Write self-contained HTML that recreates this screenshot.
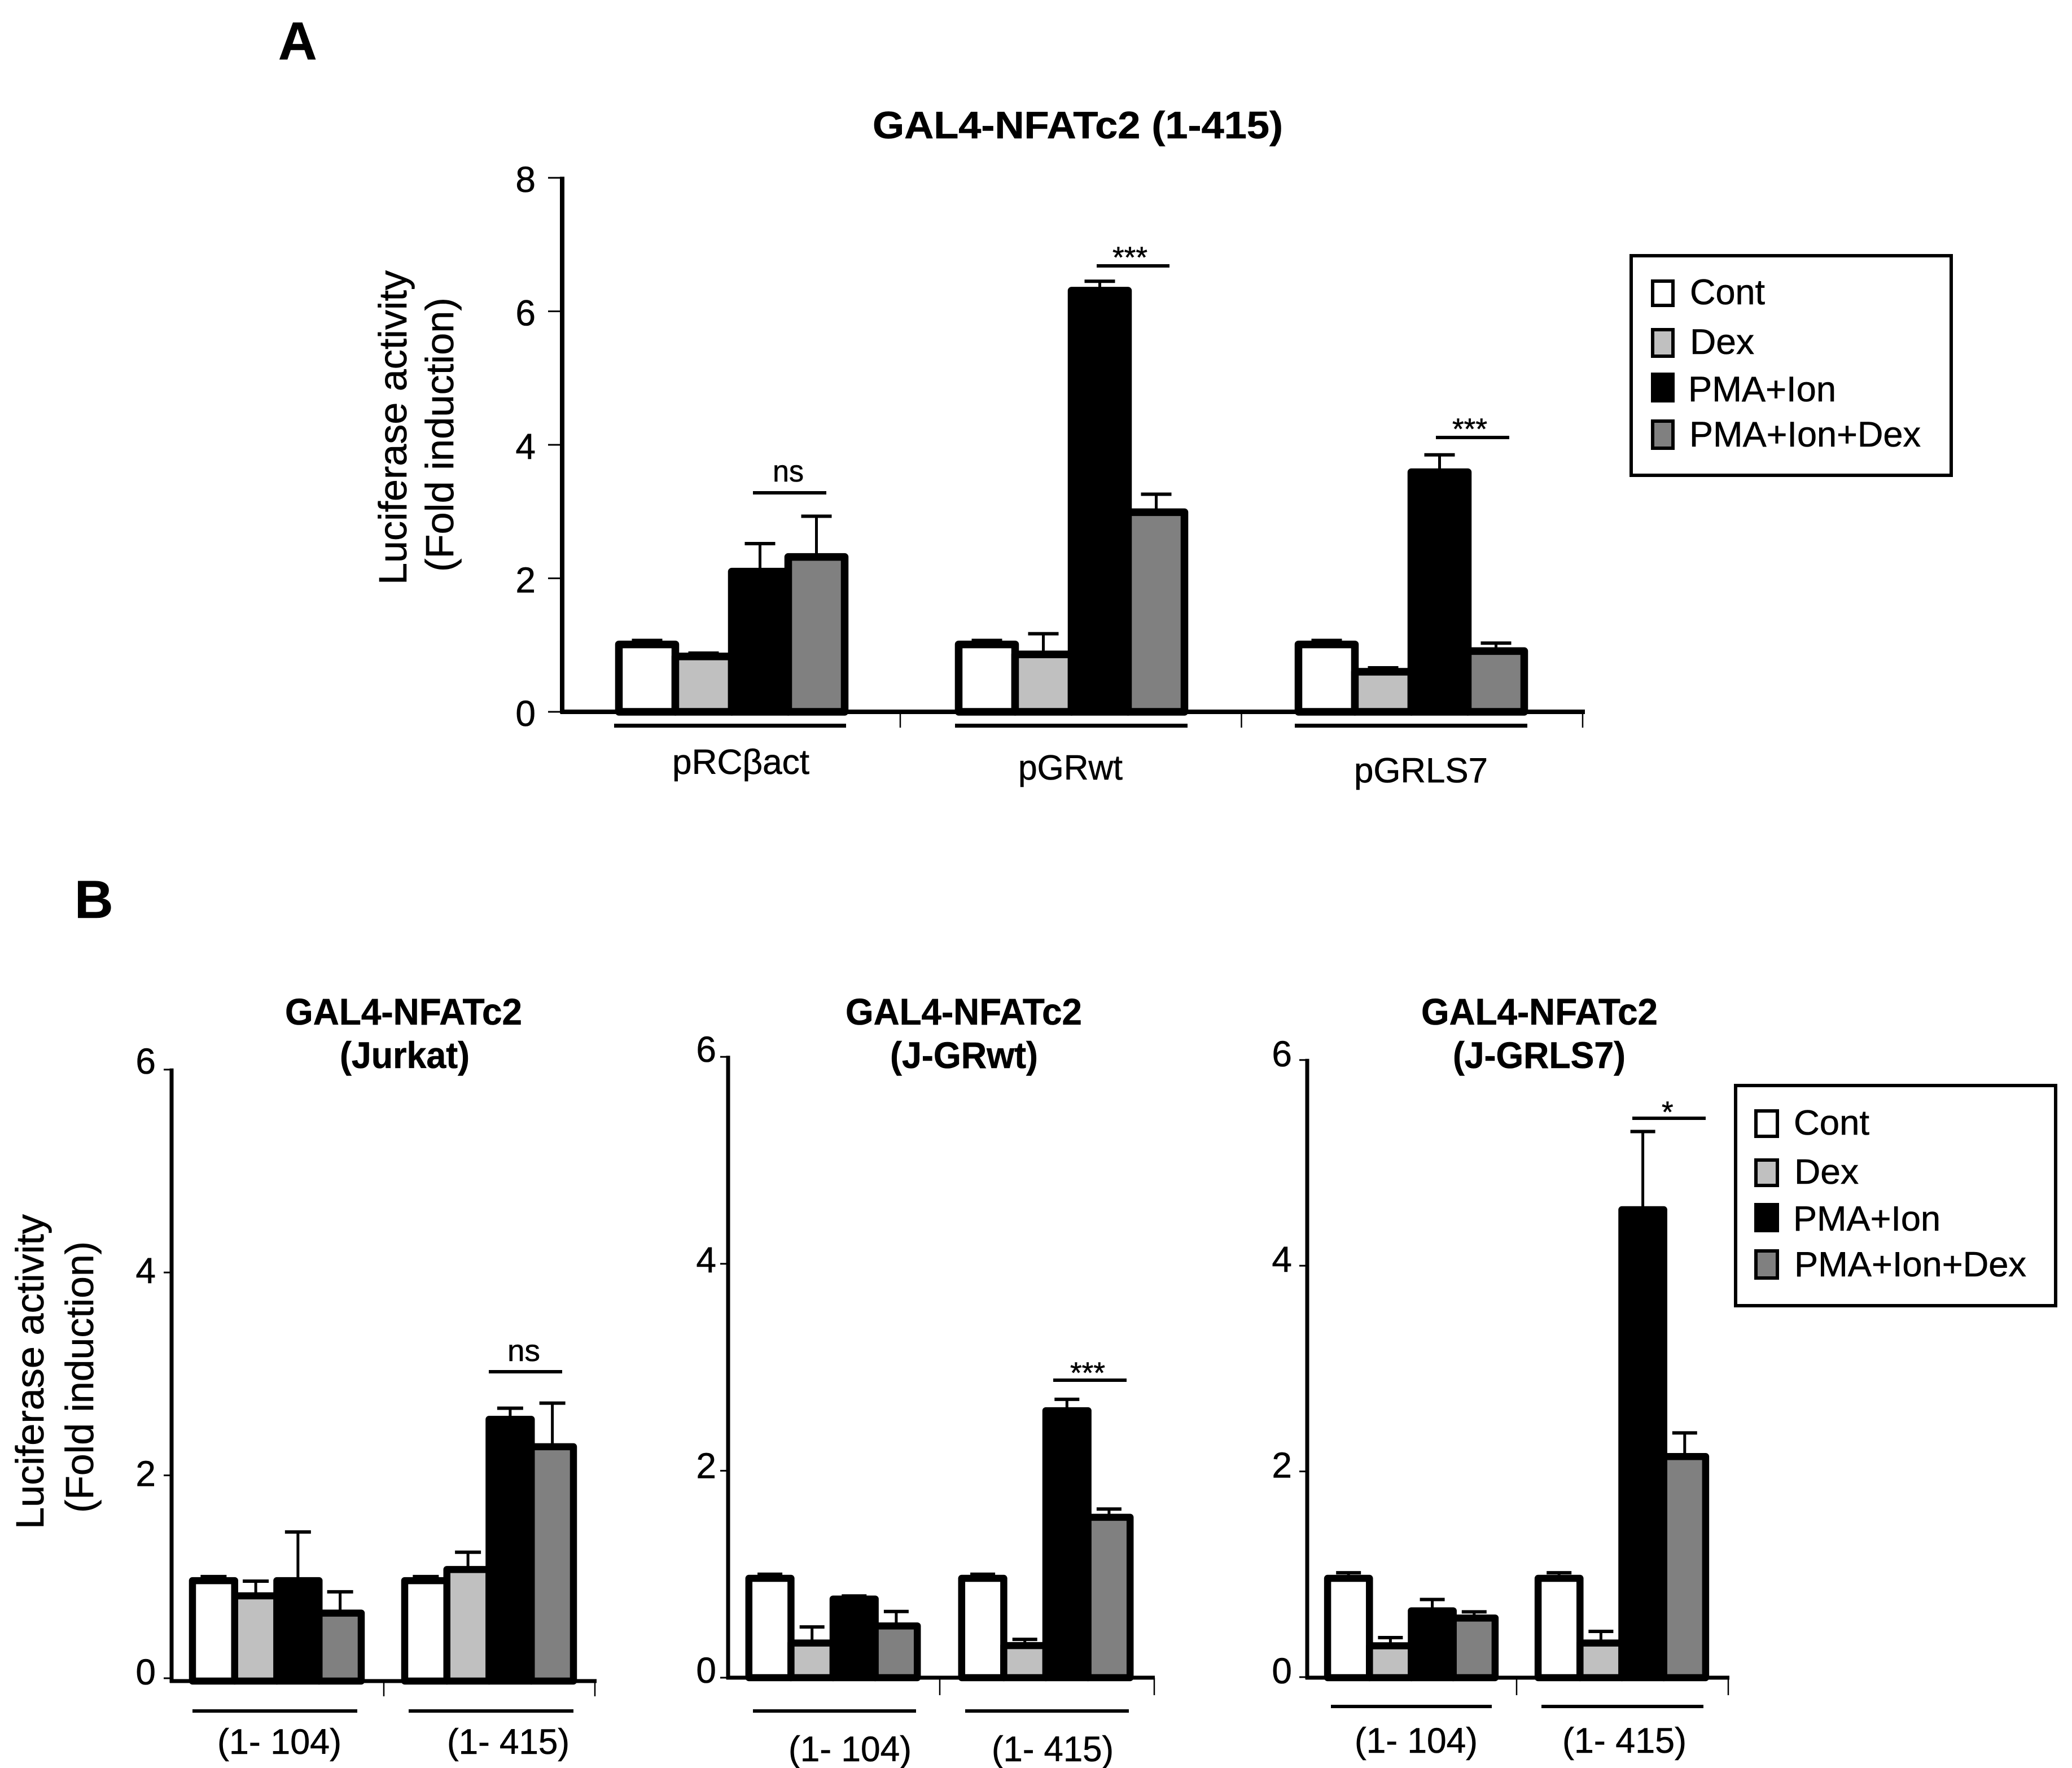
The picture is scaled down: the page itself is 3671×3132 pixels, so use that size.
<!DOCTYPE html>
<html lang="en">
<head>
<meta charset="utf-8">
<title>GAL4-NFATc2 luciferase activity</title>
<style>
html,body{margin:0;padding:0;background:#fff;}
svg{display:block;}
text{font-family:"Liberation Sans",sans-serif;fill:#000;stroke:#000;stroke-width:0.6px;}
.b{font-weight:bold;}
</style>
</head>
<body>
<svg id="figure" xmlns="http://www.w3.org/2000/svg" width="3671" height="3132" viewBox="0 0 3671 3132">
<rect x="0" y="0" width="3671" height="3132" fill="#fff"/>

<text class="b" x="493" y="105" font-size="95">A</text>
<text class="b" x="132" y="1626" font-size="95">B</text>

<!-- Panel A static text -->
<text class="b" x="1546" y="245" font-size="68" textLength="727" lengthAdjust="spacingAndGlyphs">GAL4-NFATc2 (1-415)</text>
<text transform="translate(720,1036) rotate(-90)" font-size="70" textLength="557" lengthAdjust="spacingAndGlyphs">Luciferase activity</text>
<text transform="translate(803,1013) rotate(-90)" font-size="70" textLength="486" lengthAdjust="spacingAndGlyphs">(Fold induction)</text>

<line x1="1334" x2="1464" y1="873" y2="873" stroke="#000" stroke-width="6"/>
<text x="1369" y="853" font-size="54" textLength="55" lengthAdjust="spacingAndGlyphs">ns</text>
<line x1="1943" x2="2072" y1="471" y2="471" stroke="#000" stroke-width="6"/>
<text x="1971" y="474" font-size="53" textLength="62" lengthAdjust="spacingAndGlyphs">***</text>
<line x1="2544" x2="2674" y1="775" y2="775" stroke="#000" stroke-width="6"/>
<text x="2573" y="778" font-size="53" textLength="62" lengthAdjust="spacingAndGlyphs">***</text>

<!-- Legend A -->
<g>
<rect x="2890" y="453" width="567" height="389" fill="#fff" stroke="#000" stroke-width="6"/>
<rect x="2928" y="498" width="36" height="43" fill="#fff" stroke="#000" stroke-width="6"/>
<text x="2994" y="539" font-size="63" textLength="133" lengthAdjust="spacingAndGlyphs">Cont</text>
<rect x="2928" y="584" width="36" height="47" fill="#c0c0c0" stroke="#000" stroke-width="6"/>
<text x="2994" y="627" font-size="63" textLength="114" lengthAdjust="spacingAndGlyphs">Dex</text>
<rect x="2928" y="663" width="36" height="47" fill="#000" stroke="#000" stroke-width="6"/>
<text x="2991" y="711" font-size="63" textLength="262" lengthAdjust="spacingAndGlyphs">PMA+Ion</text>
<rect x="2928" y="746" width="36" height="48" fill="#808080" stroke="#000" stroke-width="6"/>
<text x="2993" y="791" font-size="63" textLength="410" lengthAdjust="spacingAndGlyphs">PMA+Ion+Dex</text>
</g>

<!-- Panel B titles -->
<text transform="translate(77,2709) rotate(-90)" font-size="70" textLength="558" lengthAdjust="spacingAndGlyphs">Luciferase activity</text>
<text transform="translate(165,2680) rotate(-90)" font-size="70" textLength="481" lengthAdjust="spacingAndGlyphs">(Fold induction)</text>

<text class="b" x="505" y="1815" font-size="66" textLength="420" lengthAdjust="spacingAndGlyphs">GAL4-NFATc2</text>
<text class="b" x="602" y="1892" font-size="66" textLength="230" lengthAdjust="spacingAndGlyphs">(Jurkat)</text>
<text class="b" x="1498" y="1815" font-size="66" textLength="419" lengthAdjust="spacingAndGlyphs">GAL4-NFATc2</text>
<text class="b" x="1577" y="1892" font-size="66" textLength="262" lengthAdjust="spacingAndGlyphs">(J-GRwt)</text>
<text class="b" x="2518" y="1815" font-size="66" textLength="419" lengthAdjust="spacingAndGlyphs">GAL4-NFATc2</text>
<text class="b" x="2574" y="1892" font-size="66" textLength="306" lengthAdjust="spacingAndGlyphs">(J-GRLS7)</text>

<!-- Panel B significance -->
<line x1="866" x2="996" y1="2430" y2="2430" stroke="#000" stroke-width="6"/>
<text x="899" y="2411" font-size="54" textLength="58" lengthAdjust="spacingAndGlyphs">ns</text>
<line x1="1866" x2="1996" y1="2445" y2="2445" stroke="#000" stroke-width="6"/>
<text x="1896" y="2450" font-size="53" textLength="62" lengthAdjust="spacingAndGlyphs">***</text>
<line x1="2892" x2="3022" y1="1981" y2="1981" stroke="#000" stroke-width="6"/>
<text x="2944" y="1988" font-size="53">*</text>

<!-- Legend B -->
<g>
<rect x="3075" y="1923" width="567" height="390" fill="#fff" stroke="#000" stroke-width="6"/>
<rect x="3111" y="1968" width="38" height="45" fill="#fff" stroke="#000" stroke-width="6"/>
<text x="3178" y="2010" font-size="62" textLength="134" lengthAdjust="spacingAndGlyphs">Cont</text>
<rect x="3111" y="2055" width="38" height="45" fill="#c0c0c0" stroke="#000" stroke-width="6"/>
<text x="3179" y="2097" font-size="62" textLength="114" lengthAdjust="spacingAndGlyphs">Dex</text>
<rect x="3111" y="2134" width="38" height="46" fill="#000" stroke="#000" stroke-width="6"/>
<text x="3177" y="2180" font-size="62" textLength="261" lengthAdjust="spacingAndGlyphs">PMA+Ion</text>
<rect x="3111" y="2216" width="38" height="48" fill="#808080" stroke="#000" stroke-width="6"/>
<text x="3179" y="2261" font-size="62" textLength="411" lengthAdjust="spacingAndGlyphs">PMA+Ion+Dex</text>
</g>
<g id="plots"></g>
</svg>

<script>
// Shared series
const seriesKeys = ['cont', 'dex', 'pma-ion', 'pma-ion-dex'];
const seriesFills = ['#ffffff', '#c0c0c0', '#000000', '#808080'];

// Panel A data
const panelACategories = ['pRCβact', 'pGRwt', 'pGRLS7'];
const panelATicks = ['0', '2', '4', '6', '8'];
const panelAMeans = [[1.01, 0.83, 2.1, 2.32], [1.01, 0.86, 6.31, 2.99], [1.01, 0.6, 3.59, 0.91]];
const panelAErrors = [[0.06, 0.05, 0.42, 0.61], [0.06, 0.31, 0.14, 0.27], [0.06, 0.06, 0.26, 0.12]];

// Panel B1 (Jurkat) data
const panelB1Categories = ['(1- 104)', '(1- 415)'];
const panelB1Ticks = ['0', '2', '4', '6'];
const panelB1Means = [[0.99, 0.84, 0.99, 0.67], [0.99, 1.1, 2.58, 2.31]];
const panelB1Errors = [[0.04, 0.145, 0.48, 0.21], [0.04, 0.17, 0.11, 0.43]];

// Panel B2 (J-GRwt) data
const panelB2Categories = ['(1- 104)', '(1- 415)'];
const panelB2Ticks = ['0', '2', '4', '6'];
const panelB2Means = [[0.96, 0.335, 0.76, 0.5], [0.96, 0.31, 2.58, 1.55]];
const panelB2Errors = [[0.04, 0.155, 0.03, 0.14], [0.04, 0.06, 0.11, 0.08]];

// Panel B3 (J-GRLS7) data
const panelB3Categories = ['(1- 104)', '(1- 415)'];
const panelB3Ticks = ['0', '2', '4', '6'];
const panelB3Means = [[0.966, 0.31, 0.65, 0.58], [0.966, 0.337, 4.55, 2.15]];
const panelB3Errors = [[0.054, 0.08, 0.11, 0.06], [0.054, 0.113, 0.76, 0.23]];

// Layout only
const layouts = [
  { id: 'panel-a', categories: panelACategories, ticks: panelATicks, means: panelAMeans, errors: panelAErrors,
    left: 996, right: 2806, base: 1261, unit: 118.25, tickShift: 0, yTickLen: 25, xTickLen: 28,
    firstCenter: 1296.5, groupStep: 602, firstTick: 1595, tickStep: 604.5, pitch: 100, capHalf: 27,
    axisWidth: 8, barStroke: 13.5, ruleWidth: 7,
    tickFont: 64, tickRight: 949, tickDy: { '0': 25, '2': 25, '4': 25, '6': 25, '8': 25 },
    ruleY: 1285.5, rules: [[1088, 1499], [1692, 2104], [2294, 2706]],
    labelFont: 62, labelPlace: [[1191, 1371, 243], [1804, 1381, 185], [2399, 1386, 237]] },
  { id: 'panel-b1', categories: panelB1Categories, ticks: panelB1Ticks, means: panelB1Means, errors: panelB1Errors,
    left: 304, right: 1055, base: 2978, unit: 179.7, tickShift: -5, yTickLen: 14, xTickLen: 27,
    firstCenter: 490.5, groupStep: 376, firstTick: 680, tickStep: 374, pitch: 74.75, capHalf: 23,
    axisWidth: 7, barStroke: 12.5, ruleWidth: 6,
    tickFont: 64, tickRight: 276, tickDy: { '0': 11, '2': 19, '4': 19, '6': 7 },
    ruleY: 3031, rules: [[341, 633], [724, 1016]],
    labelFont: 63, labelPlace: [[385, 3107, 220], [792, 3107, 217]] },
  { id: 'panel-b2', categories: panelB2Categories, ticks: panelB2Ticks, means: panelB2Means, errors: panelB2Errors,
    left: 1290, right: 2044, base: 2972, unit: 183.3, tickShift: 0, yTickLen: 14, xTickLen: 31,
    firstCenter: 1476, groupStep: 377, firstTick: 1665, tickStep: 380, pitch: 74.6, capHalf: 22,
    axisWidth: 7, barStroke: 12.5, ruleWidth: 6,
    tickFont: 64, tickRight: 1269, tickDy: { '0': 9, '2': 13, '4': 15, '6': 9 },
    ruleY: 3031, rules: [[1334, 1623], [1710, 2000]],
    labelFont: 63, labelPlace: [[1397, 3120, 218], [1757, 3120, 216]] },
  { id: 'panel-b3', categories: panelB3Categories, ticks: panelB3Ticks, means: panelB3Means, errors: panelB3Errors,
    left: 2316, right: 3062, base: 2972, unit: 182.2, tickShift: -1, yTickLen: 14, xTickLen: 31,
    firstCenter: 2500.5, groupStep: 373, firstTick: 2687, tickStep: 375, pitch: 74.2, capHalf: 22,
    axisWidth: 7, barStroke: 12.5, ruleWidth: 6,
    tickFont: 64, tickRight: 2289, tickDy: { '0': 11, '2': 11, '4': 11, '6': 11 },
    ruleY: 3023, rules: [[2358, 2643], [2731, 3018]],
    labelFont: 63, labelPlace: [[2400, 3105, 218], [2768, 3105, 220]] }
];

const SVG_NS = 'http://www.w3.org/2000/svg';
const plotsRoot = document.getElementById('plots');

function make(parent, tag, attrs, content) {
  const node = document.createElementNS(SVG_NS, tag);
  for (const key in attrs) node.setAttribute(key, attrs[key]);
  if (content !== undefined) node.textContent = content;
  parent.appendChild(node);
  return node;
}

layouts.forEach(function (cfg) {
  const yScale = function (v) { return cfg.base - v * cfg.unit; };
  const xCenter = function (g) { return cfg.firstCenter + cfg.groupStep * g; };
  const xBar = function (g, s) { return xCenter(g) + (s - 2) * cfg.pitch; };

  const group = make(plotsRoot, 'g', {});
  
  

  // Bars with error bars
  cfg.means.forEach(function (row, g) {
    row.forEach(function (mean, s) {
      const barLeft = xBar(g, s);
      const top = yScale(mean);
      const errTop = yScale(mean + cfg.errors[g][s]);
      const cx = barLeft + cfg.pitch / 2;

      const stem = make(group, 'line', { x1: cx, x2: cx, y1: top, y2: errTop, stroke: '#000', 'stroke-width': 5 });
      
      

      const cap = make(group, 'line', { x1: cx - cfg.capHalf, x2: cx + cfg.capHalf, y1: errTop, y2: errTop, stroke: '#000', 'stroke-width': 6 });
      
      

      const bar = make(group, 'rect', { x: barLeft, y: top, width: cfg.pitch, height: cfg.base - top, fill: seriesFills[s], stroke: '#000', 'stroke-width': cfg.barStroke, 'stroke-linejoin': 'round' });
      
      
    });
  });

  // Y axis
  const topValue = Number(cfg.ticks[cfg.ticks.length - 1]);
  const yAxis = make(group, 'line', { x1: cfg.left, x2: cfg.left, y1: yScale(topValue) + cfg.tickShift - 2, y2: cfg.base + 3, stroke: '#000', 'stroke-width': cfg.axisWidth });
  
  

  cfg.ticks.forEach(function (label) {
    const ty = yScale(Number(label)) + cfg.tickShift;
    const tick = make(group, 'line', { x1: cfg.left - cfg.yTickLen, x2: cfg.left, y1: ty, y2: ty, stroke: '#000', 'stroke-width': 3 });
    
    

    const tickText = make(group, 'text', { x: cfg.tickRight, y: ty + cfg.tickDy[label], 'font-size': cfg.tickFont, 'text-anchor': 'end' }, label);
    
    
  });

  // X axis
  const xAxis = make(group, 'line', { x1: cfg.left - 3, x2: cfg.right + 2, y1: cfg.base, y2: cfg.base, stroke: '#000', 'stroke-width': cfg.axisWidth });
  
  

  cfg.categories.forEach(function (name, g) {
    const tx = cfg.firstTick + cfg.tickStep * g;
    const xTick = make(group, 'line', { x1: tx, x2: tx, y1: cfg.base, y2: cfg.base + cfg.xTickLen, stroke: '#000', 'stroke-width': 2.5 });
    
    

    const span = cfg.rules[g];
    const rule = make(group, 'line', { x1: span[0], x2: span[1], y1: cfg.ruleY, y2: cfg.ruleY, stroke: '#000', 'stroke-width': cfg.ruleWidth });
    
    

    const place = cfg.labelPlace[g];
    const catText = make(group, 'text', { x: place[0], y: place[1], 'font-size': cfg.labelFont, textLength: place[2], lengthAdjust: 'spacingAndGlyphs' }, name);
    
    
  });
});
</script>
</body>
</html>
